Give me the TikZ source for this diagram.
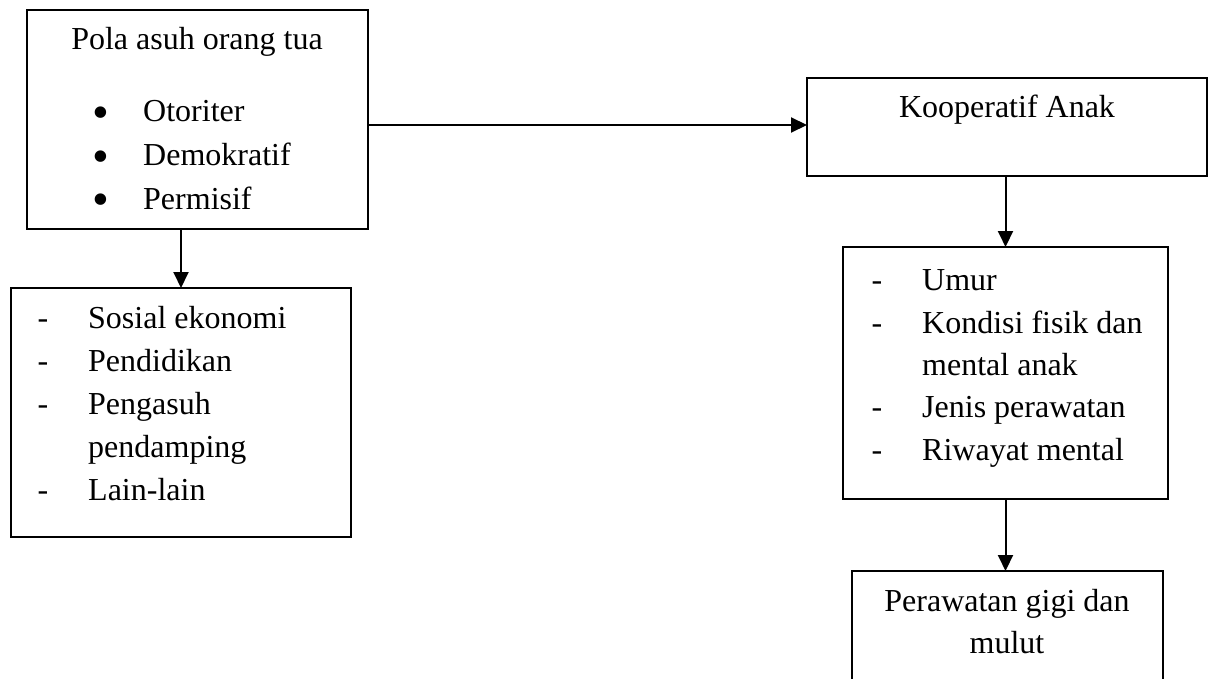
\documentclass[tikz,border=0pt]{standalone}
\usepackage{fontspec}
\setmainfont{Liberation Serif}
\usetikzlibrary{arrows.meta}
\begin{document}
\begin{tikzpicture}[x=1pt,y=-1pt,
  box/.style={draw,line width=2pt,minimum width=#1,inner sep=0pt,outer sep=0pt},
  txt/.style={inner sep=0pt,anchor=base west,font=\fontsize{32}{43}\selectfont},
  ctxt/.style={inner sep=0pt,anchor=base,font=\fontsize{32}{43}\selectfont},
  bul/.style={inner sep=0pt,anchor=center,font=\fontsize{48}{48}\selectfont},
  arr/.style={line width=2pt,-{Triangle[length=16pt,width=15pt]}}]
\useasboundingbox (0,0) rectangle (1214,679);
\clip (0,0) rectangle (1214,679);
% boxes
\node[box=341pt,minimum height=219pt] (b1) at (197.5,119.5) {};
\node[box=340pt,minimum height=249pt] (b2) at (181,412.5) {};
\node[box=400pt,minimum height=98pt] (b3) at (1007,127) {};
\node[box=325pt,minimum height=252pt] (b4) at (1005.5,373) {};
\node[box=311pt,minimum height=140pt] (b5) at (1007.5,641) {};
% box 1 text
\node[ctxt] (t1) at (197,50) {Pola asuh orang tua};
\node[bul] (u1) at (101,118) {\textbullet};
\node[bul] (u2) at (101,162) {\textbullet};
\node[bul] (u3) at (101,205) {\textbullet};
\node[txt] (l1) at (143,122) {Otoriter};
\node[txt] (l2) at (143,165.5) {Demokratif};
\node[txt] (l3) at (143,209) {Permisif};
% box 2 text
\foreach \y/\n in {328/a,371/b,414/c,500/d}{\node[ctxt] (d2\n) at (43,\y) {-};}
\node[txt] (s1) at (88,328) {Sosial ekonomi};
\node[txt] (s2) at (88,371) {Pendidikan};
\node[txt] (s3) at (88,414) {Pengasuh};
\node[txt] (s4) at (88,457) {pendamping};
\node[txt] (s5) at (88,500) {Lain-lain};
% box 3 text
\node[ctxt] (k1) at (1007,118) {Kooperatif Anak};
% box 4 text
\foreach \y/\n in {290/a,333/b,417/c,460/d}{\node[ctxt] (d4\n) at (877,\y) {-};}
\node[txt] (m1) at (922,290) {Umur};
\node[txt] (m2) at (922,333) {Kondisi fisik dan};
\node[txt] (m3) at (922,375) {mental anak};
\node[txt] (m4) at (922,417) {Jenis perawatan};
\node[txt] (m5) at (922,460) {Riwayat mental};
% box 5 text
\node[ctxt] (p1) at (1007,611) {Perawatan gigi dan};
\node[ctxt] (p2) at (1007,653) {mulut};
% connectors
\coordinate (h) at (0,125);
\draw[arr] (b1.south -| b2.north) -- (b2.north);
\draw[arr] (b1.east |- h) -- (b3.west |- h);
\draw[arr] (b3.south -| b4.north) -- (b4.north);
\draw[arr] (b4.south) -- (b4.south |- b5.north);
\end{tikzpicture}
\end{document}
